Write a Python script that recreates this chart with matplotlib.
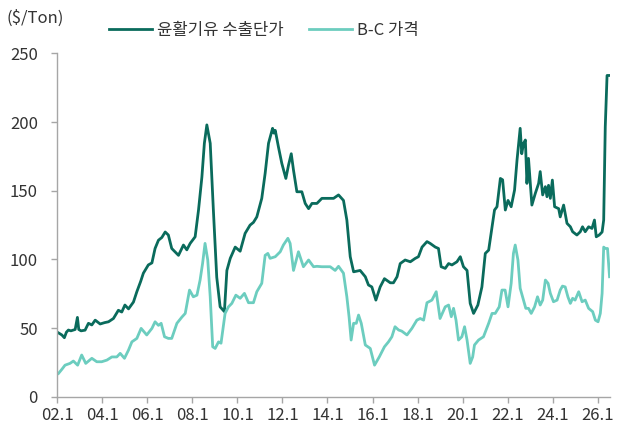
import matplotlib
matplotlib.use('Agg')
import matplotlib.pyplot as plt

plt.rcParams['font.family'] = ['Noto Sans CJK KR', 'DejaVu Sans']
plt.rcParams['font.weight'] = 'light'

# 윤활기유 수출단가 (decimal year, $/Ton)
lube_t = [2002.00, 2002.10, 2002.20, 2002.31, 2002.40, 2002.49, 2002.60, 2002.79, 2002.89, 2002.95,
          2003.05, 2003.23, 2003.38, 2003.53, 2003.68, 2003.90, 2004.10, 2004.27, 2004.49, 2004.71,
          2004.86, 2005.00, 2005.16, 2005.38, 2005.53, 2005.70, 2005.82, 2006.04, 2006.20, 2006.34,
          2006.49, 2006.64, 2006.79, 2006.93, 2007.08, 2007.38, 2007.60, 2007.75, 2007.90, 2008.12,
          2008.27, 2008.42, 2008.53, 2008.64, 2008.79, 2008.93, 2009.08, 2009.23, 2009.42, 2009.53,
          2009.68, 2009.90, 2010.12, 2010.34, 2010.56, 2010.71, 2010.86, 2011.08, 2011.23, 2011.38,
          2011.56, 2011.62, 2011.68, 2011.82, 2011.97, 2012.15, 2012.27, 2012.39, 2012.49, 2012.64,
          2012.86, 2013.01, 2013.16, 2013.31, 2013.53, 2013.75, 2014.04, 2014.27, 2014.49, 2014.71,
          2014.86, 2015.01, 2015.16, 2015.45, 2015.68, 2015.82, 2015.97, 2016.15, 2016.34, 2016.53,
          2016.79, 2016.93, 2017.09, 2017.23, 2017.45, 2017.68, 2017.90, 2018.04, 2018.20, 2018.42,
          2018.56, 2018.79, 2018.93, 2019.05, 2019.23, 2019.38, 2019.53, 2019.75, 2019.90, 2020.04,
          2020.20, 2020.34, 2020.49, 2020.68, 2020.86, 2021.01, 2021.16, 2021.31, 2021.42, 2021.53,
          2021.68, 2021.78, 2021.90, 2022.02, 2022.16, 2022.31, 2022.42, 2022.56, 2022.63, 2022.71,
          2022.79, 2022.86, 2022.93, 2023.08, 2023.23, 2023.38, 2023.45, 2023.56, 2023.68, 2023.75,
          2023.82, 2023.90, 2023.99, 2024.09, 2024.27, 2024.34, 2024.49, 2024.64, 2024.79, 2024.89,
          2025.08, 2025.23, 2025.33, 2025.45, 2025.60, 2025.75, 2025.86, 2025.94, 2026.07, 2026.20,
          2026.27, 2026.34, 2026.42, 2026.53]
lube_v = [47, 46, 45, 43, 47, 48.6, 48, 49, 57.8, 49,
          48, 48.5, 53.5, 52.3, 55.8, 53, 54, 54.6, 57, 63,
          61.7, 66.8, 64, 69, 76.5, 84, 90, 96, 97.5, 108,
          114, 116, 120, 117.8, 108, 103, 110.5, 107, 111.7, 116.5,
          136, 160, 184.6, 198, 184.6, 136, 87, 65.5, 62, 92,
          100.8, 109, 106, 119, 125, 127, 131, 144.5, 162.7, 184.6,
          195.5, 192, 194, 182, 170, 159, 168.8, 177, 165, 149.3,
          149.3, 140.8, 137, 140.8, 140.8, 144.5, 144.5, 144.5, 147, 143,
          128.7, 102, 91, 92, 87.4, 81.4, 80, 70.4, 80, 86,
          83, 83, 87.4, 97, 99.6, 98.3, 100.8, 102, 109, 113,
          111.7, 109, 108, 94.7, 93.5, 97, 96, 98.3, 102, 94.7,
          92, 68, 60.7, 66.8, 80, 104.4, 106.8, 123.8, 136, 138.4,
          159, 158, 136, 143, 138.4, 150.5, 172.4, 195.5, 177, 184.6,
          187, 155.4, 173.6, 139.6, 148, 155.4, 164, 147, 153, 145.7,
          154, 144.5, 157.8, 138.4, 137, 131, 139.6, 126.3, 123.8, 120.2,
          117.8, 120.2, 123.8, 120.2, 123.8, 122.6, 128.7, 116.5, 117.8, 120,
          128.7, 196.6, 234, 234]

# B-C 가격
bc_t = [2002.05, 2002.20, 2002.34, 2002.56, 2002.71, 2002.90, 2003.08, 2003.26, 2003.53, 2003.75,
        2003.97, 2004.20, 2004.42, 2004.64, 2004.79, 2004.98, 2005.16, 2005.31, 2005.53, 2005.72,
        2005.97, 2006.20, 2006.34, 2006.49, 2006.61, 2006.76, 2006.93, 2007.08, 2007.31, 2007.53,
        2007.68, 2007.87, 2008.04, 2008.20, 2008.34, 2008.45, 2008.56, 2008.68, 2008.79, 2008.90,
        2009.01, 2009.16, 2009.27, 2009.45, 2009.60, 2009.75, 2009.93, 2010.12, 2010.31, 2010.49,
        2010.71, 2010.86, 2011.08, 2011.23, 2011.35, 2011.45, 2011.68, 2011.90, 2012.04, 2012.24,
        2012.34, 2012.49, 2012.71, 2012.93, 2013.16, 2013.38, 2013.53, 2013.75, 2014.12, 2014.34,
        2014.49, 2014.71, 2014.86, 2014.96, 2015.05, 2015.16, 2015.28, 2015.38, 2015.50, 2015.68,
        2015.90, 2016.09, 2016.30, 2016.53, 2016.71, 2016.86, 2017.00, 2017.16, 2017.30, 2017.53,
        2017.75, 2017.97, 2018.12, 2018.27, 2018.42, 2018.64, 2018.83, 2019.00, 2019.23, 2019.38,
        2019.50, 2019.60, 2019.71, 2019.82, 2019.97, 2020.09, 2020.20, 2020.34, 2020.45, 2020.53,
        2020.71, 2020.93, 2021.16, 2021.31, 2021.45, 2021.63, 2021.75, 2021.89, 2022.02, 2022.16,
        2022.26, 2022.34, 2022.46, 2022.56, 2022.71, 2022.81, 2022.93, 2023.05, 2023.20, 2023.33,
        2023.45, 2023.56, 2023.68, 2023.80, 2023.90, 2024.04, 2024.20, 2024.34, 2024.44, 2024.56,
        2024.68, 2024.79, 2024.89, 2025.00, 2025.16, 2025.31, 2025.45, 2025.60, 2025.78, 2025.90,
        2026.02, 2026.12, 2026.20, 2026.27, 2026.34, 2026.44, 2026.53]
bc_v = [17, 20, 23, 24.3, 26, 23, 30.4, 24.3, 28, 25.5,
        25.5, 26.7, 29, 29, 31.6, 28, 34, 40, 42.5, 49.8,
        45, 49.8, 54.6, 52, 53.5, 43.7, 42.5, 42.5, 53.5, 58,
        60.7, 77.7, 72.8, 74, 85, 97, 111.7, 99.6, 72.8, 36.4,
        35.2, 40, 39, 60.7, 65.5, 68, 74, 71.7, 75.3, 68.5,
        68.5, 76.5, 82.6, 103, 104.4, 100.8, 102, 105.6, 110.5, 115.4,
        111.7, 92, 105.6, 94.7, 99.6, 94.7, 95, 94.7, 94.7, 92,
        95, 90, 72.8, 58, 41.3, 53.5, 53.5, 59.5, 53.5, 37.7,
        35.2, 23, 29, 36.4, 40, 43.7, 51, 48.6, 47.8, 45,
        49.8, 55.8, 57, 55.8, 68.5, 70.4, 76.5, 57, 65.5, 66.8,
        58.3, 64.4, 55.8, 41.3, 43.7, 51, 41.3, 24.3, 29, 37.7,
        41.3, 43.7, 53.5, 60.7, 60.7, 65.5, 77.7, 77.7, 65.5, 82.6,
        104.4, 110.5, 99.6, 79, 70.4, 64.4, 64.4, 60.7, 65.5, 72.8,
        66.8, 70.4, 85, 82.6, 75.3, 69.2, 70.4, 77.7, 80.6, 80,
        72.8, 68, 71.7, 70.4, 76.5, 69.2, 70.4, 64.4, 62, 55.8,
        54.6, 60.7, 75.3, 109, 108, 108, 87.4]

tick_years = list(range(2002, 2027, 2))
tick_labels = ['%02d.1' % (y % 100) for y in tick_years]

dark = '#0a6b5c'
light = '#6ccdbf'
txt = '#333333'
axcol = '#a6a6a6'

fig = plt.figure(figsize=(6.17, 4.28), dpi=100)
ax = fig.add_axes([0.093, 0.073, 0.896, 0.802])

ax.plot(lube_t, lube_v, color=dark, lw=2.0, label='윤활기유 수출단가')
ax.plot(bc_t, bc_v, color=light, lw=2.0, label='B-C 가격')

ax.set_xlim(2002, 2026.56)
ax.set_ylim(0, 250)
ax.set_yticks(range(0, 251, 50))
ax.set_xticks(tick_years)
ax.set_xticklabels(tick_labels)

for s in ['top', 'right']:
    ax.spines[s].set_visible(False)
for s in ['left', 'bottom']:
    ax.spines[s].set_color(axcol)
    ax.spines[s].set_linewidth(1.0)
ax.tick_params(colors=axcol, labelcolor=txt, labelsize=12, length=4, width=1)
ax.tick_params(axis='y', pad=10)

fig.text(0.01, 1 - 18 / 428, r'(\$/Ton)', fontsize=12, color=txt, va='center')
fig.legend(loc='center left', bbox_to_anchor=(0.176, 1 - 30 / 428), ncol=2, frameon=False,
           fontsize=12, handlelength=2.6, handletextpad=0.3, columnspacing=1.5,
           labelcolor=txt, borderaxespad=0, borderpad=0)

fig.savefig('out.png', dpi=100)
